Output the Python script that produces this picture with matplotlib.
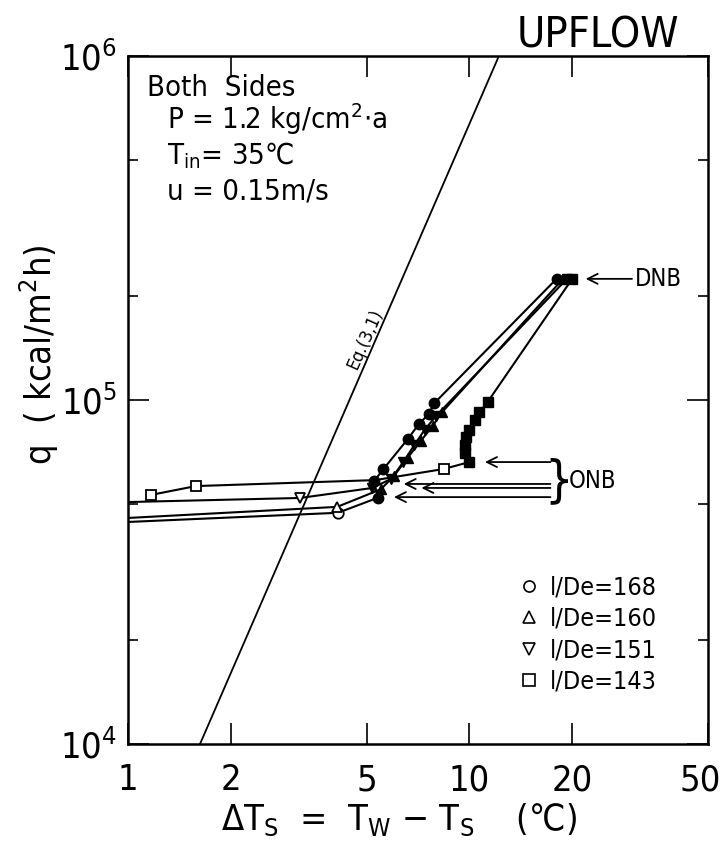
import matplotlib
matplotlib.use("Agg")
import matplotlib.pyplot as plt
from matplotlib.lines import Line2D
from matplotlib.transforms import ScaledTranslation

plt.rcParams['font.family'] = ['DejaVu Sans']
plt.rcParams['font.stretch'] = 'condensed'
plt.rcParams['mathtext.default'] = 'regular'

# -------------------------------------------------
# Data
# -------------------------------------------------

# l/De = 168 (circles)
c_edge_q = 4.42e4
c_open_x = [4.12]
c_open_q = [4.7e4]
c_boil_x = [5.4, 5.25, 5.6, 6.6, 7.1, 7.6, 7.9, 18.0]
c_boil_q = [5.2e4, 5.8e4, 6.3e4, 7.7e4, 8.5e4, 9.1e4, 9.8e4, 2.25e5]

# l/De = 160 (triangles up)
t_edge_q = 4.54e4
t_open_x = [4.1]
t_open_q = [4.89e4]
t_boil_x = [5.5, 6.0, 6.6, 7.2, 7.8, 8.3, 18.8]
t_boil_q = [5.5e4, 6.0e4, 6.8e4, 7.6e4, 8.4e4, 9.2e4, 2.25e5]

# l/De = 151 (triangles down)
v_edge_q = 5.05e4
v_open_x = [3.19]
v_open_q = [5.19e4]
v_boil_x = [5.2, 5.9, 6.4, 6.9, 7.4, 8.0, 19.3]
v_boil_q = [5.55e4, 5.9e4, 6.6e4, 7.4e4, 8.2e4, 9.0e4, 2.25e5]

# l/De = 143 (squares)
s_open_x = [1.17, 1.58, 8.4]
s_open_q = [5.3e4, 5.62e4, 6.3e4]
s_boil_x = [10.0, 9.7, 9.7, 9.8, 10.0, 10.4, 10.7, 11.3, 20.0]
s_boil_q = [6.6e4, 7.0e4, 7.4e4, 7.8e4, 8.2e4, 8.75e4, 9.2e4, 9.86e4, 2.25e5]
s_mid_x = 5.3
s_mid_q = 5.85e4

# Eq.(3,1) line end points
eq_x = [1.625, 12.2]
eq_q = [1e4, 1e6]

# ONB arrows
onb_q = [6.6e4, 5.7e4, 5.55e4, 5.22e4]
onb_tip_x = [10.9, 6.3, 7.1, 5.9]
onb_tail_x = 17.6

# DNB arrow
dnb_q = 2.25e5
dnb_tip_x = 21.5
dnb_tail_x = 30.5

x_ticks = [1, 2, 5, 10, 20, 50]
x_ticklabels = ["1", "2", "5", "10", "20", "50"]
y_ticks = [1e4, 1e5, 1e6]
y_ticklabels = ["$10^4$", "$10^5$", "$10^6$"]

legend_labels = ["l/De=168", "l/De=160", "l/De=151", "l/De=143"]
legend_markers = ["o", "^", "v", "s"]

# -------------------------------------------------
# Figure
# -------------------------------------------------

fig = plt.figure(figsize=(7.25, 8.59), dpi=100)
ax = fig.add_axes([0.1766, 0.1339, 0.8, 0.8009])
ax.set_xscale("log")
ax.set_yscale("log")
ax.set_xlim(1, 50)
ax.set_ylim(1e4, 1e6)

lw = 1.5
ms_open = 7.5
ms_fill = 7.5

series = [
    (c_edge_q, c_open_x, c_open_q, c_boil_x, c_boil_q, "o"),
    (t_edge_q, t_open_x, t_open_q, t_boil_x, t_boil_q, "^"),
    (v_edge_q, v_open_x, v_open_q, v_boil_x, v_boil_q, "v"),
]

for edge_q, ox, oq, bx, bq, mk in series:
    xs = [1.0] + list(ox) + list(bx)
    qs = [edge_q] + list(oq) + list(bq)
    ax.plot(xs, qs, color="black", lw=lw, zorder=2)
    ax.plot(bx, bq, ls="none", marker=mk, ms=ms_fill,
            mfc="black", mec="black", zorder=3)
    ax.plot(ox, oq, ls="none", marker=mk, ms=ms_open,
            mfc="white", mec="black", mew=1.3, zorder=4)

# squares: line passes a hidden point inside the cluster
sq_x = s_open_x[:2] + [s_mid_x] + s_open_x[2:] + s_boil_x
sq_q = s_open_q[:2] + [s_mid_q] + s_open_q[2:] + s_boil_q
ax.plot(sq_x, sq_q, color="black", lw=lw, zorder=2)
ax.plot(s_boil_x, s_boil_q, ls="none", marker="s", ms=ms_fill,
        mfc="black", mec="black", zorder=3)
ax.plot(s_open_x, s_open_q, ls="none", marker="s", ms=ms_open,
        mfc="white", mec="black", mew=1.3, zorder=4)

# Eq.(3,1)
ax.plot(eq_x, eq_q, color="black", lw=1.3, zorder=1)
ax.text(4.95, 1.5e5, "Eq.(3,1)", rotation=66, fontsize=13,
        ha="center", va="center")

# ONB arrows
for q, tip in zip(onb_q, onb_tip_x):
    ax.annotate("", xy=(tip, q), xytext=(onb_tail_x, q),
                arrowprops=dict(arrowstyle="->", color="black", lw=1.3,
                                mutation_scale=18))
ax.text(18.3, 5.8e4, "}", fontsize=36, ha="center", va="center")
ax.text(19.6, 5.8e4, "ONB", fontsize=17, ha="left", va="center")

# DNB arrow
ax.annotate("", xy=(dnb_tip_x, dnb_q), xytext=(dnb_tail_x, dnb_q),
            arrowprops=dict(arrowstyle="->", color="black", lw=1.3,
                            mutation_scale=18))
ax.text(dnb_tail_x, dnb_q, "DNB", fontsize=17, ha="left", va="center")

# condition text
ax.text(0.033, 0.953, "Both  Sides", transform=ax.transAxes,
        fontsize=21, va="center")
ax.text(0.067, 0.908, "P = 1.2 kg/cm$^2$$\\cdot$a", transform=ax.transAxes,
        fontsize=21, va="center")
ax.text(0.067, 0.855, "T$_{in}$= 35℃", transform=ax.transAxes,
        fontsize=21, va="center")
ax.text(0.067, 0.803, "u = 0.15m/s", transform=ax.transAxes,
        fontsize=21, va="center")

# ticks
ax.set_xticks(x_ticks)
ax.set_xticklabels(x_ticklabels)
ax.xaxis.set_minor_locator(matplotlib.ticker.NullLocator())
ax.set_yticks(y_ticks)
ax.set_yticklabels(y_ticklabels)
ax.set_yticks([2e4, 5e4, 2e5, 5e5], minor=True)
ax.yaxis.set_minor_formatter(matplotlib.ticker.NullFormatter())
ax.tick_params(which="major", direction="in", length=15, width=1.2,
               top=True, right=True, labelsize=26, pad=14)
ax.tick_params(which="minor", direction="in", length=7, width=1.2,
               top=True, right=True)
ax.tick_params(axis="y", pad=8)

# keep the "50" inside the figure
last = ax.get_xticklabels()[-1]
last.set_transform(last.get_transform()
                   + ScaledTranslation(-6 / 72, 0, fig.dpi_scale_trans))

for sp in ax.spines.values():
    sp.set_linewidth(1.8)

# legend
handles = [Line2D([], [], ls="none", marker=m, ms=8, mfc="white",
                  mec="black", mew=1.2) for m in legend_markers]
ax.legend(handles, legend_labels, loc="lower right",
          bbox_to_anchor=(0.95, 0.04), frameon=False, fontsize=18,
          handletextpad=0.3, labelspacing=0.3, handlelength=1.0)

# labels
fig.text(0.055, 0.587, "q  ( kcal/m$^2$h)", rotation=90, fontsize=26,
         ha="center", va="center")
fig.text(0.55, 0.045, "$\\Delta$T$_S$  =  T$_W$ $-$ T$_S$    (℃)",
         fontsize=26, ha="center", va="center")
fig.text(0.825, 0.959, "UPFLOW", fontsize=31, ha="center", va="center")

plt.savefig("out.png", dpi=100)
plt.close()
